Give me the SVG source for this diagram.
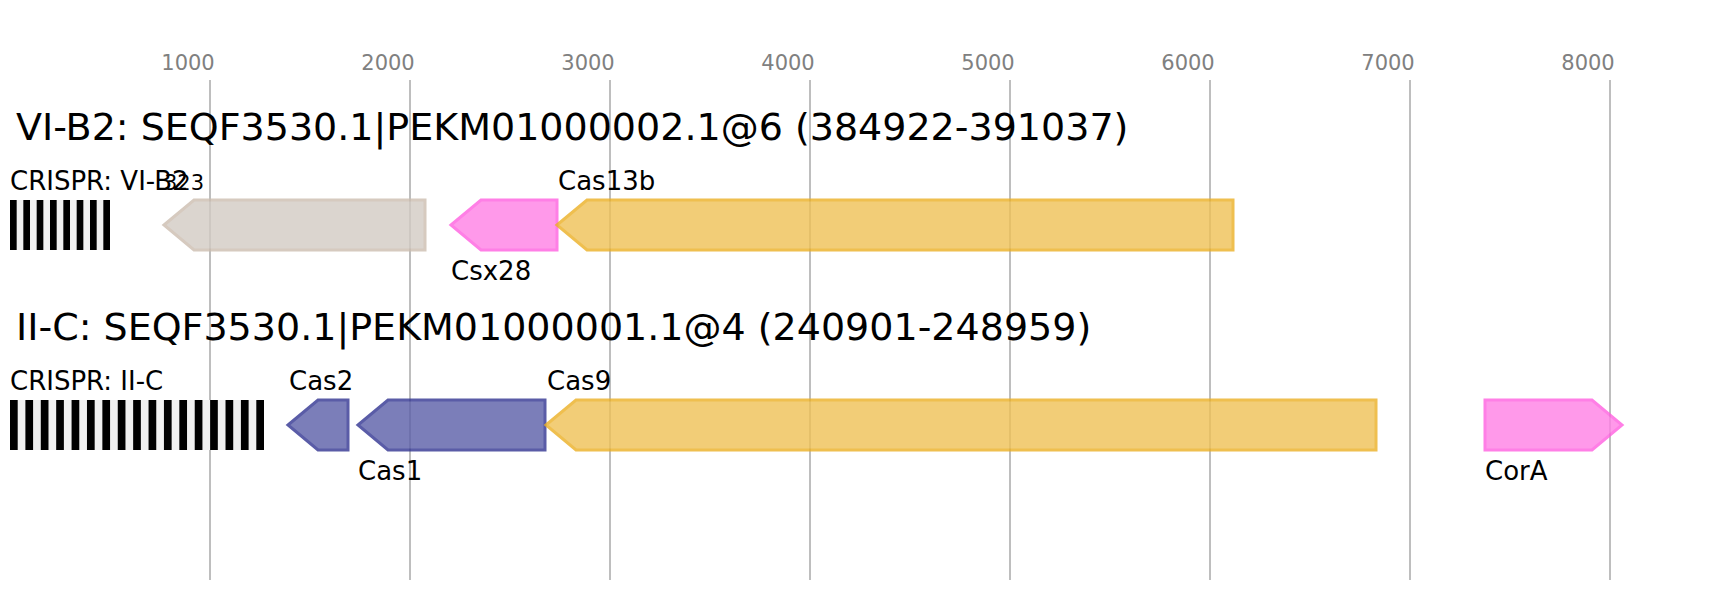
<svg xmlns="http://www.w3.org/2000/svg" width="1712" height="600" viewBox="0 0 1712 600">
<style>
text{font-family:"DejaVu Sans",sans-serif;fill:#000}
.tick{font-size:21px;fill:#808080;text-anchor:middle}
.title{font-size:38px}
.lab{font-size:26px}
.small{font-size:21px}
.grid{stroke:#bebebe;stroke-width:2}
.gene{stroke-width:3;opacity:0.8}
.grey{fill:#d3cbc4;stroke:#ccbdb0}
.pink{fill:#ff80e6;stroke:#ff60e0}
.purple{fill:#5b5fa8;stroke:#313492}
.orange{fill:#efc156;stroke:#ecb024}
.rep{fill:#000}
.spc{fill:#f0f0f0}
</style>
<rect width="1712" height="600" fill="#fff"/>
<g id="axis">
<g class="grid">
<line x1="210" y1="80" x2="210" y2="580"/>
<line x1="410" y1="80" x2="410" y2="580"/>
<line x1="610" y1="80" x2="610" y2="580"/>
<line x1="810" y1="80" x2="810" y2="580"/>
<line x1="1010" y1="80" x2="1010" y2="580"/>
<line x1="1210" y1="80" x2="1210" y2="580"/>
<line x1="1410" y1="80" x2="1410" y2="580"/>
<line x1="1610" y1="80" x2="1610" y2="580"/>
</g>
<text class="tick" x="188" y="70">1000</text>
<text class="tick" x="388" y="70">2000</text>
<text class="tick" x="588" y="70">3000</text>
<text class="tick" x="788" y="70">4000</text>
<text class="tick" x="988" y="70">5000</text>
<text class="tick" x="1188" y="70">6000</text>
<text class="tick" x="1388" y="70">7000</text>
<text class="tick" x="1588" y="70">8000</text>
</g>
<g id="locus1">
<text class="title" x="16" y="140">VI-B2: SEQF3530.1|PEKM01000002.1@6 (384922-391037)</text>
</g>
<g id="crispr1">
<text class="lab" x="10" y="190">CRISPR: VI-B2</text>
<rect class="spc" x="10" y="200" width="100" height="50"/>
<rect class="rep" x="10" y="200" width="6.67" height="50"/>
<rect class="rep" x="23.33" y="200" width="6.67" height="50"/>
<rect class="rep" x="36.67" y="200" width="6.67" height="50"/>
<rect class="rep" x="50" y="200" width="6.67" height="50"/>
<rect class="rep" x="63.33" y="200" width="6.67" height="50"/>
<rect class="rep" x="76.67" y="200" width="6.67" height="50"/>
<rect class="rep" x="90" y="200" width="6.67" height="50"/>
<rect class="rep" x="103.33" y="200" width="6.67" height="50"/>
</g>
<g id="gene323">
<polygon class="gene grey" points="164,225 194,200 425,200 425,250 194,250"/>
<text class="small" x="164" y="190">323</text>
</g>
<g id="csx28">
<polygon class="gene pink" points="451,225 481,200 557,200 557,250 481,250"/>
<text class="lab" x="451" y="280">Csx28</text>
</g>
<g id="cas13b">
<polygon class="gene orange" points="557,225 587,200 1233,200 1233,250 587,250"/>
<text class="lab" x="558" y="190">Cas13b</text>
</g>
<g id="locus2">
<text class="title" x="16" y="340">II-C: SEQF3530.1|PEKM01000001.1@4 (240901-248959)</text>
</g>
<g id="crispr2">
<text class="lab" x="10" y="390">CRISPR: II-C</text>
<rect class="spc" x="10" y="400" width="254" height="50"/>
<g class="rep">
<rect x="10" y="400" width="7.7" height="50"/>
<rect x="25.39" y="400" width="7.7" height="50"/>
<rect x="40.79" y="400" width="7.7" height="50"/>
<rect x="56.18" y="400" width="7.7" height="50"/>
<rect x="71.58" y="400" width="7.7" height="50"/>
<rect x="86.97" y="400" width="7.7" height="50"/>
<rect x="102.36" y="400" width="7.7" height="50"/>
<rect x="117.76" y="400" width="7.7" height="50"/>
<rect x="133.15" y="400" width="7.7" height="50"/>
<rect x="148.55" y="400" width="7.7" height="50"/>
<rect x="163.94" y="400" width="7.7" height="50"/>
<rect x="179.33" y="400" width="7.7" height="50"/>
<rect x="194.73" y="400" width="7.7" height="50"/>
<rect x="210.12" y="400" width="7.7" height="50"/>
<rect x="225.52" y="400" width="7.7" height="50"/>
<rect x="240.91" y="400" width="7.7" height="50"/>
<rect x="256.3" y="400" width="7.7" height="50"/>
</g>
</g>
<g id="cas2">
<polygon class="gene purple" points="288,425 318,400 348,400 348,450 318,450"/>
<text class="lab" x="289" y="390">Cas2</text>
</g>
<g id="cas1">
<polygon class="gene purple" points="358,425 388,400 545,400 545,450 388,450"/>
<text class="lab" x="358" y="480">Cas1</text>
</g>
<g id="cas9">
<polygon class="gene orange" points="546,425 576,400 1376,400 1376,450 576,450"/>
<text class="lab" x="547" y="390">Cas9</text>
</g>
<g id="cora">
<polygon class="gene pink" points="1485,400 1592,400 1622,425 1592,450 1485,450"/>
<text class="lab" x="1485" y="480">CorA</text>
</g>
</svg>
